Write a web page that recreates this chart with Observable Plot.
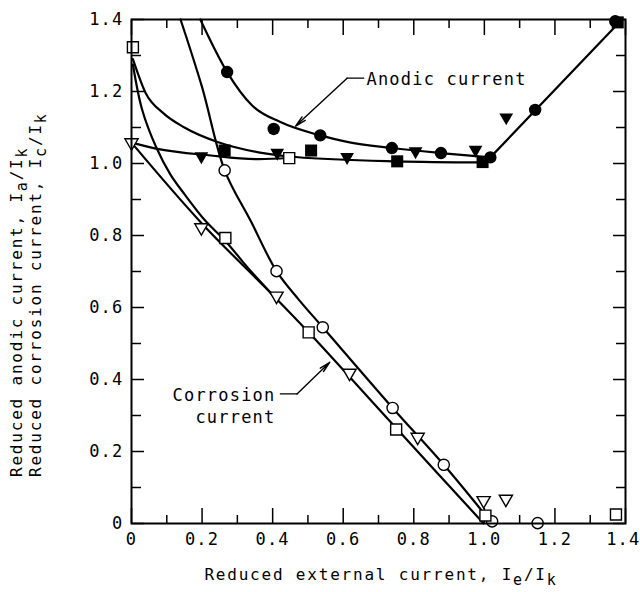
<!DOCTYPE html>
<html>
<head>
<meta charset="utf-8">
<script src="https://cdn.jsdelivr.net/npm/d3@7"></script>
<script src="https://cdn.jsdelivr.net/npm/@observablehq/plot@0.6"></script>
<style>
  html, body { margin: 0; padding: 0; background: #fff; }
  #chart svg { display: block; }
</style>
</head>
<body>
<div id="chart"></div>
<script>
// ---------- data ----------
// Corrosion current, open symbols
const openCircles   = [[0.264,0.981],[0.411,0.701],[0.542,0.545],[0.740,0.321],[0.885,0.163],[1.022,0.006],[1.151,0.001]];
const openSquares   = [[0.004,1.323],[0.266,0.793],[0.502,0.531],[0.750,0.261],[1.003,0.022],[1.373,0.025],[0.447,1.015]];
const openTriangles = [[0.000,1.058],[0.198,0.822],[0.411,0.632],[0.618,0.418],[0.811,0.240],[0.998,0.064],[1.061,0.068]];
// Anodic current, filled symbols
const filledCircles   = [[0.271,1.254],[0.403,1.096],[0.535,1.078],[0.738,1.043],[0.877,1.029],[1.017,1.017],[1.144,1.149],[1.371,1.395]];
const filledSquares   = [[0.264,1.036],[0.509,1.036],[0.753,1.006],[0.995,1.004],[1.378,1.392]];
const filledTriangles = [[0.198,1.020],[0.413,1.030],[0.611,1.018],[0.805,1.034],[0.975,1.038],[1.062,1.128]];

// Fitted curves
const anodicCircleCurve = [[0.195,1.400],[0.271,1.254],[0.342,1.161],[0.422,1.115],[0.535,1.078],[0.611,1.060],[0.738,1.043],[0.877,1.029],[1.017,1.017]];
const anodicCircleRise  = [[1.017,1.017],[1.390,1.400]];
const anodicSquareCurve = [[0.004,1.290],[0.040,1.196],[0.090,1.140],[0.150,1.100],[0.246,1.059],[0.360,1.031],[0.465,1.018],[0.753,1.006],[0.995,1.003]];
const anodicTriCurve    = [[0.000,1.058],[0.077,1.040],[0.219,1.023],[0.361,1.012],[0.450,1.016]];
const corrCircleCurve   = [[0.139,1.400],[0.200,1.212],[0.264,0.981],[0.338,0.840],[0.411,0.701],[0.474,0.622],[0.542,0.545],[0.740,0.321],[0.885,0.163],[1.022,0.000]];
const corrSquareCurve   = [[0.004,1.275],[0.030,1.150],[0.070,1.045],[0.110,0.970],[0.150,0.915],[0.210,0.840],[0.266,0.785],[0.330,0.710],[0.400,0.635]];
const corrTriLine       = [[0.000,1.058],[0.198,0.835],[0.400,0.635],[0.502,0.531],[0.750,0.265],[0.998,0.000]];

// Axis ticks
const majorTicks = [0, 0.2, 0.4, 0.6, 0.8, 1.0, 1.2, 1.4];
const minorTicks = [0.1, 0.3, 0.5, 0.7, 0.9, 1.1, 1.3];

// Annotations
const anodicLabel    = "Anodic current";
const corrosionLabel = ["Corrosion", "current"];

// ---------- chart ----------
const FONT = "DejaVu Sans Mono";
const fmt = d => d === 0 ? "0" : d.toFixed(1);
const X = d => d[0], Y = d => d[1];

const triangleDown = {
  draw(context, size) {
    const y = Math.sqrt(size / (Math.sqrt(3) * 3));
    context.moveTo(0, 2 * y);
    context.lineTo(-Math.sqrt(3) * y, -y);
    context.lineTo(Math.sqrt(3) * y, -y);
    context.closePath();
  }
};

const lineOpts = {x: X, y: Y, stroke: "black", strokeWidth: 2.2};
const lastTick = majorTicks[majorTicks.length - 1];

const plot = Plot.plot({
  width: 640,
  height: 592,
  marginLeft: 131,
  marginRight: 15,
  marginTop: 19,
  marginBottom: 69,
  style: {fontFamily: FONT, fontSize: "17px", background: "white", color: "black", letterSpacing: "1.2px"},
  x: {domain: [0, 1.4], label: null},
  y: {domain: [0, 1.4], label: null},
  marks: [
    // ticks (inward) on all four sides
    Plot.axisX(majorTicks, {anchor: "bottom", tickSize: -15, fill: "none", strokeWidth: 1.5, label: null}),
    Plot.axisX(minorTicks, {anchor: "bottom", tickSize: -8, fill: "none", strokeWidth: 1.5, label: null}),
    Plot.axisX(majorTicks, {anchor: "top", tickSize: -15, fill: "none", strokeWidth: 1.5, label: null}),
    Plot.axisX(minorTicks, {anchor: "top", tickSize: -8, fill: "none", strokeWidth: 1.5, label: null}),
    Plot.axisY(majorTicks, {anchor: "left", tickSize: -13, fill: "none", strokeWidth: 1.5, label: null}),
    Plot.axisY(minorTicks, {anchor: "left", tickSize: -10, fill: "none", strokeWidth: 1.5, label: null}),
    Plot.axisY(majorTicks, {anchor: "right", tickSize: -13, fill: "none", strokeWidth: 1.5, label: null}),
    Plot.axisY(minorTicks, {anchor: "right", tickSize: -10, fill: "none", strokeWidth: 1.5, label: null}),
    // tick labels
    Plot.axisX(majorTicks.filter(d => d !== lastTick), {anchor: "bottom", tickSize: 0, tickPadding: 9, tickFormat: fmt, label: null, fontSize: 17}),
    Plot.axisX([lastTick], {anchor: "bottom", tickSize: 0, tickPadding: 9, tickFormat: fmt, label: null, fontSize: 17, textAnchor: "end", dx: 15}),
    Plot.axisY(majorTicks, {anchor: "left", tickSize: 0, tickPadding: 8, tickFormat: fmt, label: null, fontSize: 17}),

    // fitted curves
    Plot.line(anodicCircleCurve, {...lineOpts, curve: "monotone-x"}),
    Plot.line(anodicCircleRise, {...lineOpts}),
    Plot.line(anodicSquareCurve, {...lineOpts, curve: "monotone-x"}),
    Plot.line(anodicTriCurve, {...lineOpts, curve: "monotone-x"}),
    Plot.line(corrCircleCurve, {...lineOpts, curve: "catmull-rom"}),
    Plot.line(corrSquareCurve, {...lineOpts, curve: "catmull-rom"}),
    Plot.line(corrTriLine, {...lineOpts, curve: "catmull-rom"}),

    // annotations
    Plot.text([anodicLabel], {x: 0.666, y: 1.234, text: d => d, textAnchor: "start", fontSize: 17, fill: "black"}),
    Plot.line([[0.658,1.237],[0.611,1.237]], {x: X, y: Y, stroke: "black", strokeWidth: 1.3}),
    Plot.arrow([0], {x1: 0.611, y1: 1.237, x2: 0.465, y2: 1.104, stroke: "black", strokeWidth: 1.4, headLength: 12, headAngle: 24}),
    Plot.text([corrosionLabel[0]], {x: 0.408, y: 0.356, text: d => d, textAnchor: "end", fontSize: 17, fill: "black"}),
    Plot.text([corrosionLabel[1]], {x: 0.408, y: 0.293, text: d => d, textAnchor: "end", fontSize: 17, fill: "black"}),
    Plot.line([[0.422,0.360],[0.469,0.360]], {x: X, y: Y, stroke: "black", strokeWidth: 1.3}),
    Plot.arrow([0], {x1: 0.469, y1: 0.360, x2: 0.562, y2: 0.448, stroke: "black", strokeWidth: 1.4, headLength: 12, headAngle: 24}),

    // data points: open (corrosion)
    Plot.dot(openCircles,   {x: X, y: Y, r: 5.6, symbol: "circle", fill: "white", stroke: "black", strokeWidth: 1.4}),
    Plot.dot(openSquares,   {x: X, y: Y, r: 6.2, symbol: "square", fill: "white", stroke: "black", strokeWidth: 1.4}),
    Plot.dot(openTriangles, {x: X, y: Y, r: 4.9, symbol: triangleDown, fill: "white", stroke: "black", strokeWidth: 1.4}),
    // data points: filled (anodic)
    Plot.dot(filledCircles,   {x: X, y: Y, r: 6.2, symbol: "circle", fill: "black", stroke: "none"}),
    Plot.dot(filledSquares,   {x: X, y: Y, r: 6.8, symbol: "square", fill: "black", stroke: "none"}),
    Plot.dot(filledTriangles, {x: X, y: Y, r: 5.1, symbol: triangleDown, fill: "black", stroke: "none"}),

    Plot.frame({stroke: "black", strokeWidth: 2})
  ]
});

document.getElementById("chart").appendChild(plot);

// ---------- axis titles with subscripts ----------
const svg = d3.select(plot);
function title(parts, attrs) {
  const t = svg.append("text")
    .attr("font-family", FONT)
    .attr("font-size", 16)
    .attr("letter-spacing", "1.8px")
    .attr("fill", "black");
  for (const [k, v] of Object.entries(attrs)) t.attr(k, v);
  let shifted = false;
  for (const [str, sub] of parts) {
    const ts = t.append("tspan").text(str);
    if (sub && !shifted) { ts.attr("dy", 5); shifted = true; }
    else if (!sub && shifted) { ts.attr("dy", -5); shifted = false; }
    if (sub) ts.attr("font-size", 15);
  }
  return t;
}
title([["Reduced external current, I", false], ["e", true], ["/I", false], ["k", true]],
      {x: 381, y: 580, "text-anchor": "middle"});
title([["Reduced anodic current, I", false], ["a", true], ["/I", false], ["k", true]],
      {transform: "translate(22,477) rotate(-90)", "text-anchor": "start"});
title([["Reduced corrosion current, I", false], ["c", true], ["/I", false], ["k", true]],
      {transform: "translate(41,477) rotate(-90)", "text-anchor": "start"});
</script>
</body>
</html>
